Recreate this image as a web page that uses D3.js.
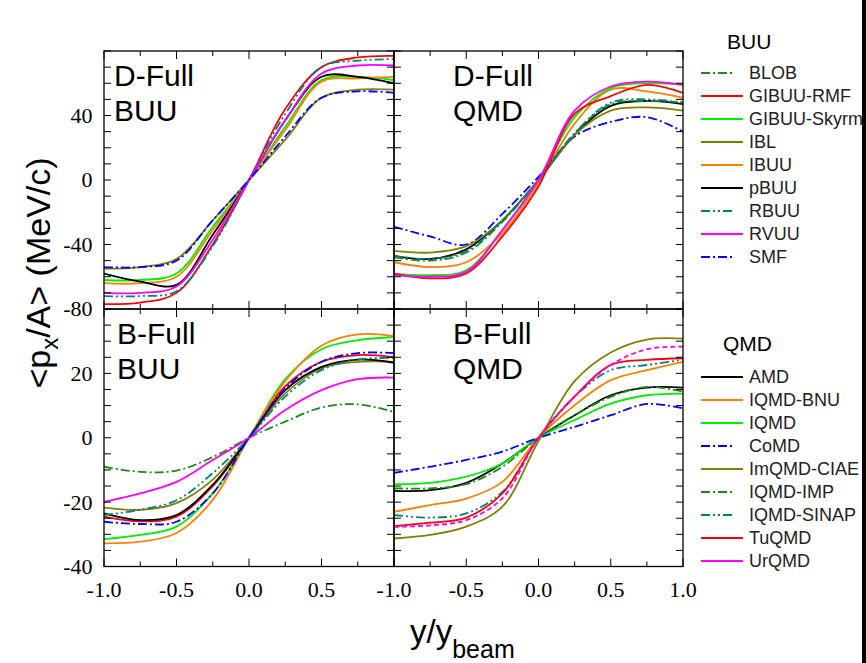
<!DOCTYPE html>
<html>
<head>
<meta charset="utf-8">
<script src="https://cdnjs.cloudflare.com/ajax/libs/d3/7.8.5/d3.min.js"></script>
<style>
body { margin: 0; background: #fff; }
svg { display: block; }
</style>
</head>
<body>
<script>
var width = 866,
height = 663;

// rapidity points
var xs = [-1, -0.75, -0.5, -0.25, 0, 0.25, 0.5, 0.75, 1];

var buuModels = ["BLOB", "GIBUU-RMF", "GIBUU-Skyrm", "IBL", "IBUU", "pBUU", "RBUU", "RVUU", "SMF"];
var qmdModels = ["AMD", "IQMD-BNU", "IQMD", "CoMD", "ImQMD-CIAE", "IQMD-IMP", "IQMD-SINAP", "TuQMD", "UrQMD"];

var dFullBuu = {
    "GIBUU-RMF":   [-77, -76, -70, -40, 0, 44, 70, 76, 77],
    "GIBUU-Skyrm": [-62, -62, -58, -29, 0, 33, 62, 64, 62],
    "IBL":         [-55, -54, -49, -25, 0, 25, 51, 56, 56],
    "IBUU":        [-64, -64, -60, -31, 0, 31, 61, 63, 64],
    "pBUU":        [-58, -63, -65, -34, 0, 37, 64, 64, 60],
    "RBUU":        [-72, -72, -69, -41, 0, 41, 70, 74, 75],
    "RVUU":        [-70, -70, -66, -37, 0, 37, 66, 71, 71],
    "SMF":         [-54, -54, -50, -25, 0, 27, 51, 55, 54]
};

var dFullQmd = {
    "AMD":        [-47, -49, -43, -25, 0, 28, 46, 49, 47],
    "IQMD-BNU":   [-51, -54, -51, -33, -2, 35, 56, 55, 51],
    "IQMD":       [-58, -59, -56, -31, 0, 39, 57, 60, 59],
    "CoMD":       [-29, -35, -40, -21, 2, 27, 36, 39, 30],
    "ImQMD-CIAE": [-44, -45, -41, -25, 0, 28, 43, 45, 43],
    "IQMD-IMP":   [-48, -50, -45, -26, 0, 29, 47, 49, 48],
    "IQMD-SINAP": [-47, -49, -44, -25, 0, 29, 48, 50, 48],
    "TuQMD":      [-58, -61, -58, -35, -4, 41, 52, 59, 54],
    "UrQMD":      [-59, -60, -57, -31, 0, 43, 58, 61, 59]
};

var bFullBuu = {
    "BLOB":        [-9, -10.6, -10.2, -6, 0, 5, 9.4, 10.4, 8],
    "GIBUU-RMF":   [-24.5, -26, -24.5, -15, 0, 16, 23.6, 25.7, 25],
    "GIBUU-Skyrm": [-31.5, -30.2, -27.6, -17.3, 0, 18.2, 27.5, 30.3, 31.3],
    "IBL":         [-21.7, -22.4, -20.3, -13, 0, 13.8, 21.6, 23.6, 23.6],
    "IBUU":        [-32.8, -32.3, -29.6, -19.3, 0, 17.6, 28.6, 32.1, 31.6],
    "pBUU":        [-23.5, -25.6, -24, -14.6, 0, 14.8, 22, 24.3, 23.3],
    "RBUU":        [-24, -22.4, -19.4, -11, 0, 12.8, 21, 24.3, 24.8],
    "RVUU":        [-19.9, -17.3, -13.7, -6.9, 0, 8.6, 14.8, 18.2, 18.7],
    "SMF":         [-26.1, -26.8, -26.1, -17.3, 0, 15.3, 23.6, 26.3, 26.3]
};

var bFullQmd = {
    "AMD":        [-16.5, -16.3, -14, -8, 0, 7, 13.2, 15.6, 15.6],
    "IQMD-BNU":   [-23, -20.9, -18.9, -13.7, 0, 10.1, 17.9, 21, 23.6],
    "IQMD":       [-14.4, -14, -12.1, -8, 0, 5.5, 10.6, 13.2, 13.7],
    "CoMD":       [-10.9, -9, -6.9, -4.3, 0, 3.4, 7, 10.5, 9.1],
    "ImQMD-CIAE": [-31.3, -30.2, -27.6, -21.4, -1, 17.6, 26.5, 30.5, 30.8],
    "IQMD-IMP":   [-15.7, -15.7, -14.4, -9, 0, 7, 12.7, 15.8, 14.3],
    "IQMD-SINAP": [-24, -24.8, -23.5, -16.8, 0, 12.8, 21, 22.6, 24.2],
    "TuQMD":      [-27.5, -26.4, -24.8, -17.3, 0, 12.8, 22.6, 24.2, 24.7],
    "UrQMD":      [-27.7, -27.2, -25.6, -18.8, 0, 12.8, 22.6, 27.5, 28.3]
};

var topYTicks = [-80, -40, 0, 40];
var botYTicks = [-40, -20, 0, 20];
var xTickLabels = [-1, -0.5, 0, 0.5, 1];

// line styles
var colors = {
    "BLOB": "#1a8a1a", "GIBUU-RMF": "#ff0000", "GIBUU-Skyrm": "#00ee00", "IBL": "#808000",
    "IBUU": "#ff8000", "pBUU": "#000000", "RBUU": "#008080", "RVUU": "#ff00ff", "SMF": "#0000ff",
    "AMD": "#000000", "IQMD-BNU": "#ff8000", "IQMD": "#00ee00", "CoMD": "#0000ff", "ImQMD-CIAE": "#808000",
    "IQMD-IMP": "#1a8a1a", "IQMD-SINAP": "#008080", "TuQMD": "#ff0000", "UrQMD": "#ff00ff"
};
var dashDot = "9,3,2,3", dashDotDot = "9,3,2,3,2,3";
var dashes = {
    "BLOB": dashDot, "SMF": dashDot, "RBUU": dashDotDot,
    "CoMD": dashDot, "IQMD-IMP": dashDot, "IQMD-SINAP": dashDotDot
};

var cols = [[104, 394], [394, 683]];
var rows = [[51, 309], [309, 566.5]];

var svg = d3.select("body").append("svg")
.attr("width", width)
.attr("height", height)
.style("font-family", "'Liberation Sans', Arial, sans-serif");

var panels = [
    {data: dFullBuu, names: buuModels, col: 0, row: 0, dom: [-80, 80], l1: "D-Full", l2: "BUU", lx: 114},
    {data: dFullQmd, names: qmdModels, col: 1, row: 0, dom: [-80, 80], l1: "D-Full", l2: "QMD", lx: 453},
    {data: bFullBuu, names: buuModels, col: 0, row: 1, dom: [-40, 40], l1: "B-Full", l2: "BUU", lx: 117},
    {data: bFullQmd, names: qmdModels, col: 1, row: 1, dom: [-40, 40], l1: "B-Full", l2: "QMD", lx: 453}
];

var defs = svg.append("defs");

function fmt(v) {
    return v.toFixed(1);
}

panels.forEach(function(p, i) {
    var x = d3.scaleLinear().domain([-1, 1]).range(cols[p.col]);
    var y = d3.scaleLinear().domain(p.dom).range([rows[p.row][1], rows[p.row][0]]);
    var step = (p.dom[1] - p.dom[0]) / 16;

    defs.append("clipPath").attr("id", "clip" + i)
    .append("rect")
    .attr("x", x(-1)).attr("y", y(p.dom[1]))
    .attr("width", x(1) - x(-1)).attr("height", y(p.dom[0]) - y(p.dom[1]));

    var g = svg.append("g");

    var line = d3.line()
    .x(function(d) { return x(d[0]); })
    .y(function(d) { return y(d[1]); })
    .curve(d3.curveCatmullRom.alpha(0.5));

    var names = p.names.filter(function(n) { return p.data[n]; });
    g.append("g").attr("clip-path", "url(#clip" + i + ")")
    .selectAll("path")
    .data(names)
    .enter().append("path")
    .attr("d", function(n) { return line(xs.map(function(v, j) { return [v, p.data[n][j]]; })); })
    .attr("fill", "none")
    .attr("stroke", function(n) { return colors[n]; })
    .attr("stroke-width", 1.8)
    .attr("stroke-dasharray", function(n) {
        // UrQMD is drawn dashed in the B-Full QMD panel
        if (n == "UrQMD" && p.row == 1) return "5,3";
        return dashes[n] || null;
    });

    // inward ticks on all four sides
    var xt = d3.range(-1, 1.001, 0.25);
    xt.forEach(function(v) {
        var len = Math.abs(v * 2 - Math.round(v * 2)) < 1e-6 ? 8 : 5;
        g.append("line").attr("x1", x(v)).attr("x2", x(v))
        .attr("y1", y(p.dom[0])).attr("y2", y(p.dom[0]) - len).attr("stroke", "#000");
        g.append("line").attr("x1", x(v)).attr("x2", x(v))
        .attr("y1", y(p.dom[1])).attr("y2", y(p.dom[1]) + len).attr("stroke", "#000");
    });
    d3.range(p.dom[0], p.dom[1] + 0.001, step).forEach(function(v) {
        g.append("line").attr("x1", x(-1)).attr("x2", x(-1) + 7)
        .attr("y1", y(v)).attr("y2", y(v)).attr("stroke", "#000");
        g.append("line").attr("x1", x(1)).attr("x2", x(1) - 7)
        .attr("y1", y(v)).attr("y2", y(v)).attr("stroke", "#000");
    });

    g.append("rect")
    .attr("x", x(-1)).attr("y", y(p.dom[1]))
    .attr("width", x(1) - x(-1)).attr("height", y(p.dom[0]) - y(p.dom[1]))
    .attr("fill", "none").attr("stroke", "#000").attr("stroke-width", 1.3);

    // panel labels
    var ly = rows[p.row][0] + 35;
    g.append("text").attr("x", p.lx).attr("y", ly).attr("font-size", 30).text(p.l1);
    g.append("text").attr("x", p.lx).attr("y", ly + 35).attr("font-size", 30).text(p.l2);

    // tick labels
    if (p.col == 0) {
        (p.row == 0 ? topYTicks : botYTicks).forEach(function(v) {
            g.append("text").attr("x", 92.5).attr("y", y(v))
            .attr("text-anchor", "end").attr("dy", "0.34em")
            .style("font-family", "'Liberation Serif', 'Times New Roman', serif")
            .attr("font-size", 22).text(v);
        });
    }
    if (p.row == 1) {
        xTickLabels.filter(function(v) { return p.col == 1 || v < 1; }).forEach(function(v) {
            g.append("text").attr("x", x(v)).attr("y", 597)
            .attr("text-anchor", "middle")
            .style("font-family", "'Liberation Serif', 'Times New Roman', serif")
            .attr("font-size", 22).text(fmt(v));
        });
    }
});

// axis titles
var yt = svg.append("text")
.attr("transform", "translate(50,273)rotate(-90)")
.attr("text-anchor", "middle")
.attr("font-size", 34);
yt.append("tspan").text("<p");
yt.append("tspan").attr("font-size", 24).attr("dy", 8).text("x");
yt.append("tspan").attr("dy", -8).text("/A> (MeV/c)");

var xtitle = svg.append("text")
.attr("x", 410).attr("y", 643)
.attr("font-size", 33);
xtitle.append("tspan").text("y/y");
xtitle.append("tspan").attr("font-size", 25).attr("dy", 15).text("beam");

// legends
function legend(title, names, tx, ty, y0) {
    var lg = svg.append("g");
    lg.append("text").attr("x", tx).attr("y", ty).attr("dy", "0.35em")
    .attr("font-size", 21).text(title);
    var item = lg.selectAll("g.item")
    .data(names)
    .enter().append("g")
    .attr("transform", function(d, i) { return "translate(0," + (y0 + i * 23) + ")"; });
    item.append("line")
    .attr("x1", 701)
    .attr("x2", function(n) { return dashes[n] ? 735 : 743; })
    .attr("stroke", function(n) { return colors[n]; })
    .attr("stroke-width", 1.8)
    .attr("stroke-dasharray", function(n) { return dashes[n] || null; });
    item.append("text")
    .attr("x", 749).attr("dy", "0.35em")
    .attr("font-size", 18)
    .attr("fill", "#222")
    .text(function(n) { return n; });
}
legend("BUU", buuModels, 727, 42, 73);
legend("QMD", qmdModels, 723, 344, 377);

// dark bar at the right edge of the picture
svg.append("rect").attr("x", 862).attr("y", 0).attr("width", 4).attr("height", height).attr("fill", "#000");
</script>
</body>
</html>
